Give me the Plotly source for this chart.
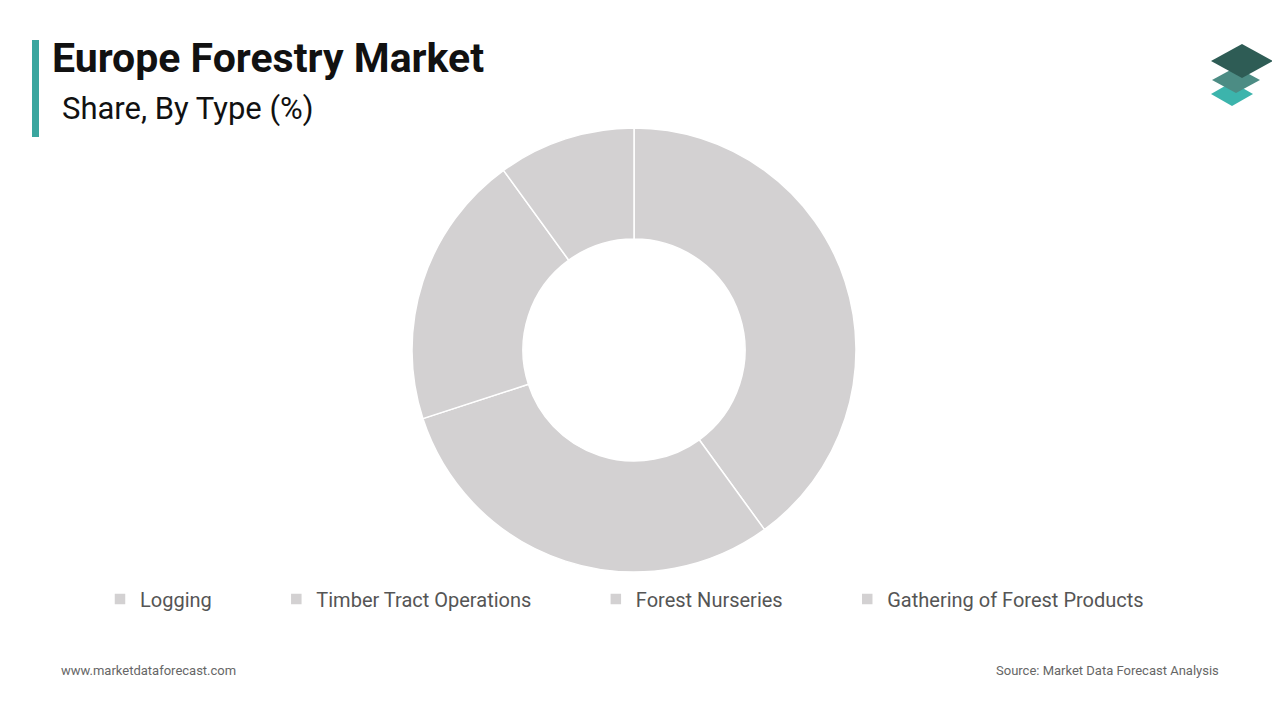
import plotly.graph_objects as go

labels = ["Logging", "Timber Tract Operations", "Forest Nurseries", "Gathering of Forest Products"]
shares = [40, 30, 20, 10]

W, H = 1280, 720
OFF = 8  # page offset seen in the screenshot


def px(x):
    return (x - OFF) / W


def py(y):
    return 1 - (y - OFF) / H


fig = go.Figure()
fig.add_trace(go.Pie(
    labels=[l + "\u00a0" * 12 for l in labels], values=shares, hole=0.5, sort=False, direction="clockwise",
    rotation=0, textinfo="none", hoverinfo="percent",
    marker=dict(colors=["#d3d1d2"] * 4, line=dict(color="#ffffff", width=1.5)),
    domain=dict(x=[px(412), px(856)], y=[py(572), py(128)]),
))


def diamond(cx, cy, w, h, color):
    return dict(type="path", xref="paper", yref="paper",
                path=f"M {px(cx - w)} {py(cy)} L {px(cx)} {py(cy - h)} L {px(cx + w)} {py(cy)} L {px(cx)} {py(cy + h)} Z",
                fillcolor=color, line=dict(width=0))


shapes = [
    dict(type="rect", xref="paper", yref="paper", x0=px(32), x1=px(39), y0=py(137), y1=py(40),
         fillcolor="#3aa69f", line=dict(width=0)),
    diamond(1232, 94, 21, 12, "#3cb4ac"),
    diamond(1236, 80, 24, 13, "#4c8c84"),
    diamond(1242, 61, 31, 17, "#2e5c55"),
]

fig.update_layout(
    width=W, height=H, margin=dict(l=0, r=0, t=0, b=0),
    paper_bgcolor="white", plot_bgcolor="white",
    font=dict(family="Roboto, sans-serif"),
    shapes=shapes,
    showlegend=True,
    legend=dict(orientation="h", x=px(100), xanchor="left", y=py(599), yanchor="middle",
                font=dict(size=20, color="#555555"), itemwidth=30, itemclick=False),
    annotations=[
        dict(text="<b>Europe Forestry Market</b>", x=px(50), y=py(58), xref="paper", yref="paper",
             xanchor="left", yanchor="middle", showarrow=False, font=dict(size=41, color="#111111")),
        dict(text="Share, By Type (%)", x=px(60), y=py(109), xref="paper", yref="paper",
             xanchor="left", yanchor="middle", showarrow=False, font=dict(size=31, color="#111111")),
        dict(text="www.marketdataforecast.com", x=px(59), y=py(670), xref="paper", yref="paper",
             xanchor="left", yanchor="middle", showarrow=False, font=dict(size=13, color="#666666")),
        dict(text="Source: Market Data Forecast Analysis", x=px(1221), y=py(670), xref="paper", yref="paper",
             xanchor="right", yanchor="middle", showarrow=False, font=dict(size=13, color="#666666")),
    ],
)

fig.write_html("out.html")
